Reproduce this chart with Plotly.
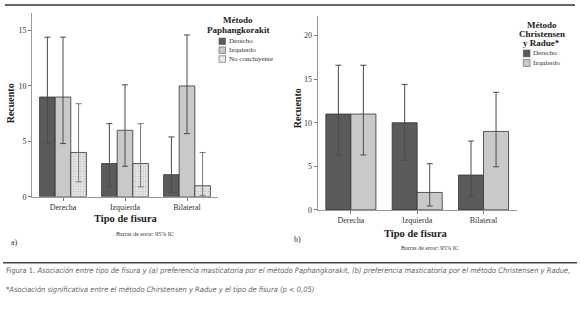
import plotly.graph_objects as go

categories = ["Derecha", "Izquierda", "Bilateral"]

# Panel a: Método Paphangkorakit
a_derecho = [9, 3, 2]
a_derecho_lo = [4.8, 0.9, 0.4]
a_derecho_hi = [14.4, 6.6, 5.4]
a_izquierdo = [9, 6, 10]
a_izquierdo_lo = [4.8, 2.75, 5.7]
a_izquierdo_hi = [14.4, 10.1, 14.6]
a_noconc = [4, 3, 1]
a_noconc_lo = [1.35, 0.9, 0.1]
a_noconc_hi = [8.4, 6.6, 4.0]

# Panel b: Método Christensen y Radue
b_derecho = [11, 10, 4]
b_derecho_lo = [6.3, 5.7, 1.5]
b_derecho_hi = [16.6, 14.4, 7.9]
b_izquierdo = [11, 2, 9]
b_izquierdo_lo = [6.3, 0.45, 4.95]
b_izquierdo_hi = [16.6, 5.3, 13.5]

y_ticks_a = [0, 5, 10, 15]
y_ticks_b = [0, 5, 10, 15, 20]

legend_a_title = ["Método", "Paphangkorakit"]
legend_a_items = ["Derecho", "Izquierdo", "No concluyente"]
legend_b_title = ["Método", "Christensen", "y Radue*"]
legend_b_items = ["Derecho", "Izquierdo"]

DARK = "#5b5b5b"
LIGHT = "#c9c9c9"
DOTBG = "#ececec"
SERIF = "Liberation Serif"
CAP = "DejaVu Sans Condensed"
W, H = 580, 313


def err(vals, lo, hi, color="#4a4a4a"):
    return dict(type="data", symmetric=False,
                array=[h - v for v, h in zip(vals, hi)],
                arrayminus=[v - l for v, l in zip(vals, lo)],
                color=color, thickness=1, width=3)


fig = go.Figure()
line = dict(color="#333333", width=0.8)
pattern = dict(shape=".", fgcolor="#8a8a8a", bgcolor=DOTBG, size=2.5, solidity=0.35)

fig.add_trace(go.Bar(x=categories, y=a_derecho, name="Derecho", marker=dict(color=DARK, line=line),
                     error_y=err(a_derecho, a_derecho_lo, a_derecho_hi), xaxis="x", yaxis="y"))
fig.add_trace(go.Bar(x=categories, y=a_izquierdo, name="Izquierdo", marker=dict(color=LIGHT, line=line),
                     error_y=err(a_izquierdo, a_izquierdo_lo, a_izquierdo_hi), xaxis="x", yaxis="y"))
fig.add_trace(go.Bar(x=categories, y=a_noconc, name="No concluyente",
                     marker=dict(color=DOTBG, line=line, pattern=pattern),
                     error_y=err(a_noconc, a_noconc_lo, a_noconc_hi, "#777777"), xaxis="x", yaxis="y"))

fig.add_trace(go.Bar(x=categories, y=b_derecho, name="Derecho", marker=dict(color=DARK, line=line),
                     error_y=err(b_derecho, b_derecho_lo, b_derecho_hi), xaxis="x2", yaxis="y2"))
fig.add_trace(go.Bar(x=categories, y=b_izquierdo, name="Izquierdo", marker=dict(color=LIGHT, line=line),
                     error_y=err(b_izquierdo, b_izquierdo_lo, b_izquierdo_hi), xaxis="x2", yaxis="y2"))

axis_common = dict(showline=True, linecolor="#9a9a9a", linewidth=1, ticks="outside", ticklen=3,
                   tickcolor="#777777", showgrid=False, zeroline=False,
                   tickfont=dict(family=SERIF, size=8, color="#333333"))

fig.update_layout(
    width=W, height=H, margin=dict(l=0, r=0, t=0, b=0),
    paper_bgcolor="white", plot_bgcolor="white",
    barmode="group", bargap=0.245, bargroupgap=0,
    showlegend=False,
    xaxis=dict(domain=[32 / W, 218 / W], anchor="y", **axis_common),
    yaxis=dict(domain=[1 - 200 / H, 1 - 13 / H], anchor="x", range=[0, 16.6], tickvals=y_ticks_a, **axis_common),
    xaxis2=dict(domain=[317.7 / W, 516.7 / W], anchor="y2", **axis_common),
    yaxis2=dict(domain=[1 - 213.3 / H, 1 - 16.7 / H], anchor="x2", range=[0, 22.2], tickvals=y_ticks_b, **axis_common),
)

ann = []
shapes = []
ann.append(dict(text="<b>Recuento</b>", x=10 / W, y=1 - 105 / H, textangle=-90, font=dict(family=SERIF, size=10, color="#222")))
ann.append(dict(text="<b>Recuento</b>", x=297 / W, y=1 - 110 / H, textangle=-90, font=dict(family=SERIF, size=10, color="#222")))
ann.append(dict(text="<b>Tipo de fisura</b>", x=126 / W, y=1 - 222 / H, font=dict(family=SERIF, size=10.5, color="#222")))
ann.append(dict(text="<b>Tipo de fisura</b>", x=416 / W, y=1 - 237 / H, font=dict(family=SERIF, size=10.5, color="#222")))
ann.append(dict(text="Barras de error: 95% IC", x=145 / W, y=1 - 238 / H, font=dict(family=SERIF, size=6, color="#333")))
ann.append(dict(text="Barras de error: 95% IC", x=430 / W, y=1 - 252 / H, font=dict(family=SERIF, size=6, color="#333")))
ann.append(dict(text="a)", x=14 / W, y=1 - 246 / H, font=dict(family=SERIF, size=8, color="#333")))
ann.append(dict(text="b)", x=297 / W, y=1 - 243 / H, font=dict(family=SERIF, size=8, color="#333")))

# Legend a (manual)
for i, t in enumerate(legend_a_title):
    ann.append(dict(text="<b>%s</b>" % t, x=238 / W, y=1 - (20.5 + 9.5 * i) / H, font=dict(family=SERIF, size=9, color="#222")))
fills_a = [DARK, LIGHT, DOTBG]
for i, t in enumerate(legend_a_items):
    yc = 42 + 9 * i
    shapes.append(dict(type="rect", xref="paper", yref="paper", x0=219 / W, x1=225.5 / W,
                       y0=1 - (yc + 3.3) / H, y1=1 - (yc - 3.3) / H, fillcolor=fills_a[i],
                       line=dict(color="#555", width=0.6)))
    ann.append(dict(text=t, x=226.5 / W, y=1 - yc / H, xanchor="left", font=dict(family=SERIF, size=7, color="#333")))

# Legend b (manual)
for i, t in enumerate(legend_b_title):
    ann.append(dict(text="<b>%s</b>" % t, x=541.7 / W, y=1 - (25 + 9.2 * i) / H, font=dict(family=SERIF, size=9, color="#222")))
fills_b = [DARK, LIGHT]
for i, t in enumerate(legend_b_items):
    yc = 54.3 + 9.7 * i
    shapes.append(dict(type="rect", xref="paper", yref="paper", x0=523.3 / W, x1=530 / W,
                       y0=1 - (yc + 3.5) / H, y1=1 - (yc - 3.5) / H, fillcolor=fills_b[i],
                       line=dict(color="#555", width=0.6)))
    ann.append(dict(text=t, x=531 / W, y=1 - yc / H, xanchor="left", font=dict(family=SERIF, size=7, color="#333")))

ann.append(dict(text="Figura 1. <i>Asociación entre tipo de fisura y (a) preferencia masticatoria por el método Paphangkorakit, (b) preferencia masticatoria por el método Christensen y Radue,</i>",
                x=4 / W, y=1 - 275 / H, xanchor="left", font=dict(family=CAP, size=7.5, color="#666")))
ann.append(dict(text="<i>*Asociación significativa entre el método Chirstensen y Radue y el tipo de fisura (p &lt; 0,05)</i>",
                x=4 / W, y=1 - 294 / H, xanchor="left", font=dict(family=CAP, size=7.5, color="#666")))
for a in ann:
    a.update(xref="paper", yref="paper", showarrow=False, yanchor="middle")
    a.setdefault("xanchor", "center")

shapes += [
    dict(type="line", xref="paper", yref="paper", x0=5 / W, x1=575 / W, y0=1 - 5 / H, y1=1 - 5 / H,
         line=dict(color="#333", width=1.5)),
    dict(type="line", xref="paper", yref="paper", x0=3 / W, x1=577 / W, y0=1 - 267 / H, y1=1 - 267 / H,
         line=dict(color="#444", width=1.5)),
]
fig.update_layout(annotations=ann, shapes=shapes)

fig.write_html("out.html", config={"displayModeBar": False},
               post_script="document.body.style.margin='0';document.body.style.padding='0';")
